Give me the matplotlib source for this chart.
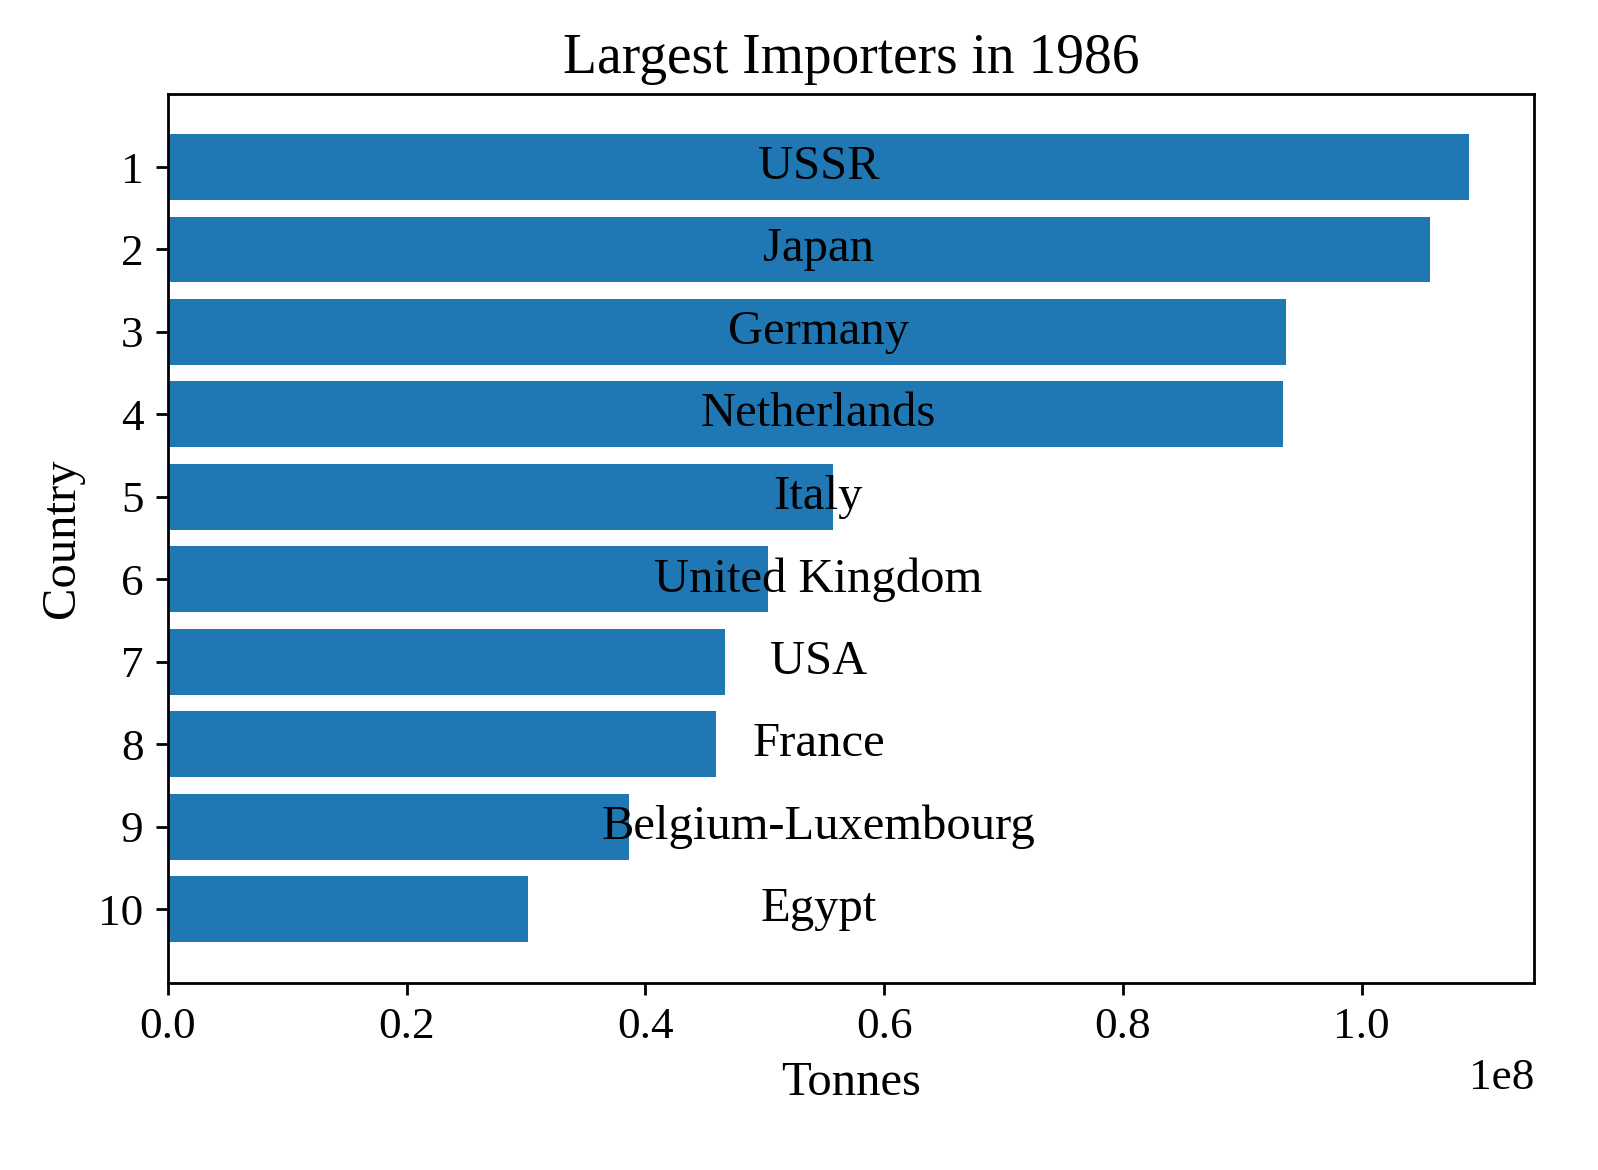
import matplotlib
matplotlib.use("Agg")
import matplotlib.pyplot as plt

plt.rcParams['font.family'] = ['Liberation Serif', 'DejaVu Serif']
plt.rcParams['font.size'] = 13

ranks = [1, 2, 3, 4, 5, 6, 7, 8, 9, 10]
countries = ["USSR", "Japan", "Germany", "Netherlands", "Italy", "United Kingdom",
             "USA", "France", "Belgium-Luxembourg", "Egypt"]
tonnes = [1.090e8, 1.057e8, 0.937e8, 0.934e8, 0.557e8, 0.503e8,
          0.467e8, 0.459e8, 0.386e8, 0.302e8]

fig, ax = plt.subplots(figsize=(6.392, 4.68), dpi=250)
fig.subplots_adjust(left=0.105, right=0.96, top=0.92, bottom=0.16)

ax.barh(ranks, tonnes, color='#1f77b4')
ax.invert_yaxis()
ax.set_yticks(ranks)
ax.set_yticklabels([str(r) for r in ranks])

mid = max(tonnes) / 2
for r, name in zip(ranks, countries):
    ax.text(mid, r, name, ha='center', va='center', fontsize=14)

ax.set_title("Largest Importers in 1986", fontsize=16)
ax.set_xlabel("Tonnes", fontsize=14)
ax.set_ylabel("Country", fontsize=14)

fig.savefig("out.png", dpi=250)
